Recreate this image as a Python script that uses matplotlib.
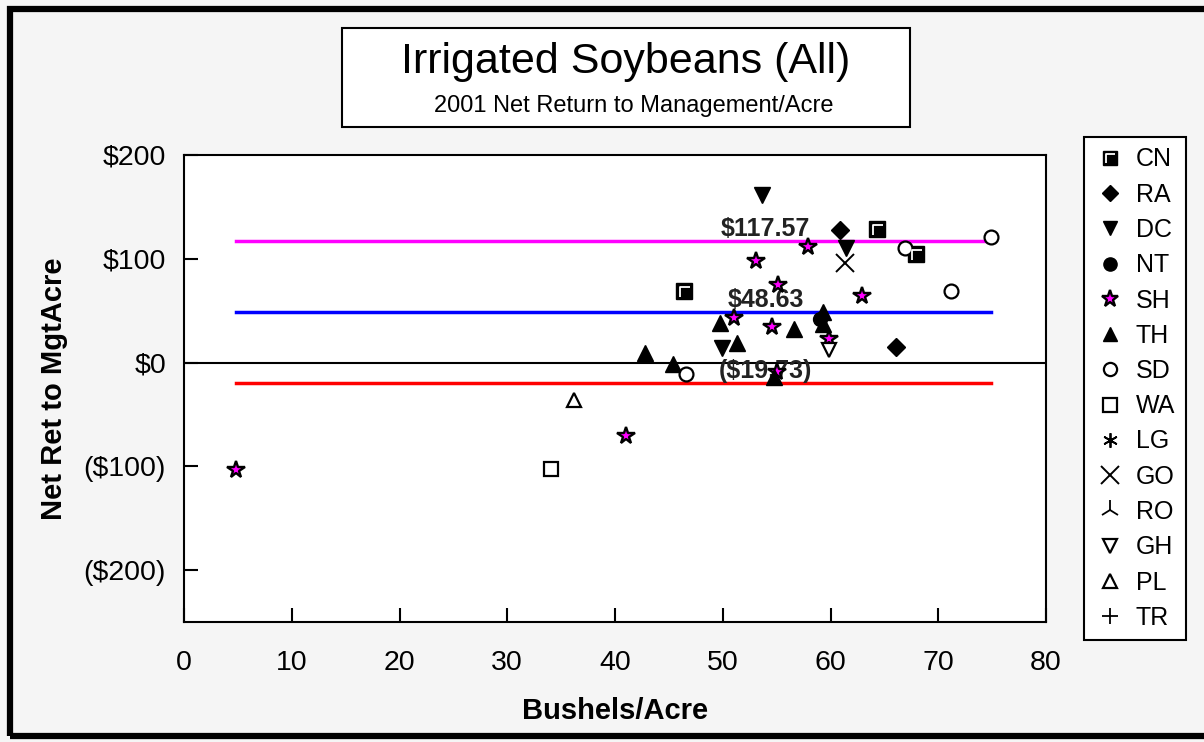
import matplotlib
matplotlib.use("Agg")
import matplotlib.pyplot as plt
from matplotlib.patches import Rectangle
from matplotlib.path import Path
from matplotlib.ticker import FuncFormatter

plt.rcParams['font.family'] = ['Liberation Sans', 'DejaVu Sans']

# data: (bushels/acre, net return $/acre)
cn_x = [46.4, 64.3, 67.9]
cn_y = [69, 129, 105]
ra_x = [60.9, 66.1]
ra_y = [128, 15]
dc_x = [53.6, 61.4, 49.9]
dc_y = [161, 110, 14]
nt_x = [59.0]
nt_y = [42]
sh_x = [4.8, 41.0, 51.0, 53.1, 54.6, 55.0, 55.1, 57.9, 59.9, 62.9]
sh_y = [-104, -71, 43, 98, 34, -9.5, 75, 111, 23, 64]
th_x = [42.8, 45.4, 49.7, 51.3, 54.8, 56.6, 59.3, 59.3]
th_y = [9, -1, 38.5, 19, -14, 32, 49, 37]
sd_x = [46.6, 66.9, 71.2, 74.9]
sd_y = [-11, 110, 69, 121]
wa_x = [34.1]
wa_y = [-103]
go_x = [61.3]
go_y = [96]
gh_x = [59.9]
gh_y = [12]
pl_x = [36.2]
pl_y = [-36]

means = [117.57, 48.63, -19.73]
mean_colors = ['#ff00ff', '#0000ff', '#ff0000']

W, H = 1204, 742
fig = plt.figure(figsize=(W / 100, H / 100), dpi=100)
fig.patch.set_facecolor('#f5f5f5')

# outer black frame
fig.patches.append(Rectangle((10 / W, 1 - 736 / H), (1230 - 10) / W, (736 - 9) / H,
                             transform=fig.transFigure, fill=False, ec='black', lw=4.5))
# title box
fig.patches.append(Rectangle((342 / W, 1 - 127 / H), (910 - 342) / W, (127 - 28) / H,
                             transform=fig.transFigure, fc='white', ec='black', lw=1.5))
fig.text(626 / W, 1 - 62 / H, 'Irrigated Soybeans (All)', fontsize=31, ha='center', va='center')
fig.text(634 / W, 1 - 106 / H, '2001 Net Return to Management/Acre', fontsize=17, ha='center', va='center')

ax = fig.add_axes([184 / W, 1 - 622 / H, (1046 - 184) / W, (622 - 155) / H])
ax.set_facecolor('white')
ax.set_xlim(0, 80)
ax.set_ylim(-250, 200)
ax.set_xticks(range(0, 81, 10))
ax.set_yticks([-200, -100, 0, 100, 200])

def money(v, pos):
    if v < 0:
        return '(${:.0f})'.format(-v)
    return '${:.0f}'.format(v)

ax.yaxis.set_major_formatter(FuncFormatter(money))
ax.tick_params(direction='in', length=10, width=1.5, labelsize=20.5)
ax.tick_params(axis='x', pad=20)
ax.tick_params(axis='y', pad=13)
for s in ax.spines.values():
    s.set_linewidth(1.5)

ax.set_xlabel('Bushels/Acre', fontsize=21, fontweight='bold', labelpad=15)
ax.set_ylabel('Net Ret to MgtAcre', fontsize=21, fontweight='bold', labelpad=11)

ax.axhline(0, color='black', lw=1.5, zorder=1)

all_x = cn_x + ra_x + dc_x + nt_x + sh_x + th_x + sd_x + wa_x + go_x + gh_x + pl_x
x0, x1 = min(all_x), max(all_x)
for m, c in zip(means, mean_colors):
    ax.plot([x0, x1], [m, m], color=c, lw=2.5, zorder=1)
    lab = '(${:.2f})'.format(-m) if m < 0 else '${:.2f}'.format(m)
    ax.text(54, m + 11.5, lab, fontsize=18, fontweight='bold', ha='center', va='center',
            color='#222222', zorder=2)

gamma = Path([(-0.45, -0.6), (-0.45, 0.45), (0.6, 0.45)], [Path.MOVETO, Path.LINETO, Path.LINETO])

ms = 10
h_cn1, = ax.plot(cn_x, cn_y, 's', color='black', ms=ms + 1, zorder=3)
h_cn2, = ax.plot(cn_x, cn_y, marker=gamma, ls='none', mfc='none', mec='white', mew=1.3, ms=ms - 2, zorder=4)
h_ra, = ax.plot(ra_x, ra_y, 'D', color='black', ms=ms - 1, zorder=3)
h_dc, = ax.plot(dc_x, dc_y, 'v', color='black', ms=ms + 1, zorder=3)
h_nt, = ax.plot(nt_x, nt_y, 'o', color='black', ms=ms, zorder=3)
h_sh, = ax.plot(sh_x, sh_y, '*', mfc='#ff00ff', mec='black', mew=1.7, ms=ms + 3, zorder=3)
h_th, = ax.plot(th_x, th_y, '^', color='black', ms=ms + 1, zorder=3)
h_sd, = ax.plot(sd_x, sd_y, 'o', mfc='white', mec='black', mew=1.6, ms=ms, zorder=3)
h_wa, = ax.plot(wa_x, wa_y, 's', mfc='white', mec='black', mew=1.6, ms=ms, zorder=3)
h_lg, = ax.plot([], [], marker=(6, 2, 0), ls='none', color='black', mew=1.3, ms=ms + 1)
h_go, = ax.plot(go_x, go_y, 'x', color='black', mew=1.4, ms=ms + 3, zorder=3)
h_ro, = ax.plot([], [], '2', ls='none', color='black', mew=1.3, ms=ms + 5)
h_gh, = ax.plot(gh_x, gh_y, 'v', mfc='white', mec='black', mew=1.6, ms=ms, zorder=3)
h_pl, = ax.plot(pl_x, pl_y, '^', mfc='white', mec='black', mew=1.6, ms=ms, zorder=3)
h_tr, = ax.plot([], [], '+', ls='none', color='black', mew=1.3, ms=ms + 2)

handles = [(h_cn1, h_cn2), h_ra, h_dc, h_nt, h_sh, h_th, h_sd, h_wa, h_lg, h_go, h_ro, h_gh, h_pl, h_tr]
labels = ['CN', 'RA', 'DC', 'NT', 'SH', 'TH', 'SD', 'WA', 'LG', 'GO', 'RO', 'GH', 'PL', 'TR']

leg = ax.legend(handles, labels, loc='upper left', bbox_to_anchor=(1084 / W, 1 - 137 / H),
                bbox_transform=fig.transFigure, fontsize=18, frameon=True, fancybox=False,
                edgecolor='black', framealpha=1, handlelength=1.25, handletextpad=0.4,
                borderpad=0.42, labelspacing=0.45, borderaxespad=0, markerscale=0.95)
leg.get_frame().set_linewidth(1.5)

fig.savefig('out.png', dpi=100, facecolor=fig.get_facecolor())
